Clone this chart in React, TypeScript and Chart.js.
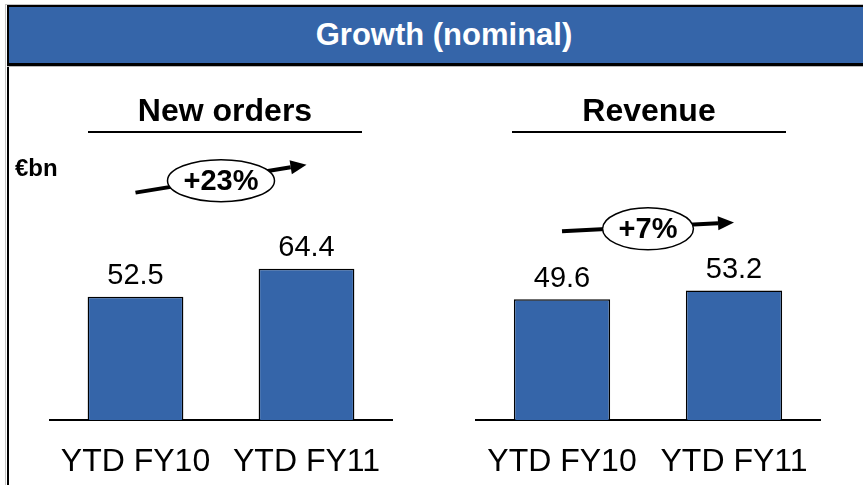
import React, { useEffect, useRef } from 'react';
import { Chart, registerables } from 'chart.js';

Chart.register(...registerables);

// ---- data ----
const headerTitle = 'Growth (nominal)';
const unitLabel = '€bn';
const categories = ['YTD FY10', 'YTD FY11'];
const newOrders = [52.5, 64.4];
const revenue = [49.6, 53.2];
const panelTitles = ['New orders', 'Revenue'];
const growthLabels = ['+23%', '+7%'];

const BLUE = '#3565A9';
const FONT = '"Liberation Sans", Arial, Helvetica, sans-serif';

const decorPlugin = {
  id: 'decor',
  afterDraw(chart: any, _args: any, opts: any) {
    const { ctx, chartArea } = chart;
    const bars = chart.getDatasetMeta(0).data;
    const vals = chart.data.datasets[0].data as number[];
    ctx.save();
    ctx.fillStyle = '#000';
    ctx.strokeStyle = '#000';

    // value labels
    ctx.font = `29px ${FONT}`;
    ctx.textAlign = 'center';
    ctx.textBaseline = 'alphabetic';
    bars.forEach((b: any, i: number) => {
      ctx.fillText(vals[i].toFixed(1), b.x, b.y - 12.5);
    });

    // panel title + underline
    const cx = (chartArea.left + chartArea.right) / 2 + opts.titleShift;
    ctx.font = `bold 32px ${FONT}`;
    ctx.fillText(opts.title, cx, opts.titleY);
    ctx.fillRect(cx - opts.underlineHalf, opts.underlineY, opts.underlineHalf * 2, 2);

    // unit label
    if (opts.unit) {
      ctx.textAlign = 'left';
      ctx.font = `bold 24px ${FONT}`;
      ctx.fillText(opts.unit, opts.unitX, opts.unitY);
    }

    // growth arrow
    const b0 = bars[0];
    const b1 = bars[1];
    const x0 = b0.x;
    const y0 = b0.y - opts.arrowOffset;
    const x1 = b1.x;
    const y1 = b1.y - opts.arrowOffset;
    const ang = Math.atan2(y1 - y0, x1 - x0);
    const headLen = 16;
    const headHalf = 7;
    const bx = x1 - headLen * Math.cos(ang);
    const by = y1 - headLen * Math.sin(ang);
    ctx.lineWidth = 4;
    ctx.beginPath();
    ctx.moveTo(x0, y0);
    ctx.lineTo(bx, by);
    ctx.stroke();
    ctx.beginPath();
    ctx.moveTo(x1, y1);
    ctx.lineTo(bx + headHalf * Math.sin(ang), by - headHalf * Math.cos(ang));
    ctx.lineTo(bx - headHalf * Math.sin(ang), by + headHalf * Math.cos(ang));
    ctx.closePath();
    ctx.fill();

    // ellipse with growth text
    ctx.font = `bold 29px ${FONT}`;
    const tw = ctx.measureText(opts.growth).width;
    const ex = (x0 + x1) / 2;
    const ey = (y0 + y1) / 2 + 2;
    const rx = tw / 2 + 16;
    const ry = 21;
    ctx.beginPath();
    ctx.ellipse(ex, ey, rx, ry, 0, 0, Math.PI * 2);
    ctx.fillStyle = '#fff';
    ctx.fill();
    ctx.lineWidth = 1.5;
    ctx.stroke();
    ctx.fillStyle = '#000';
    ctx.textAlign = 'center';
    ctx.textBaseline = 'middle';
    ctx.fillText(opts.growth, ex, ey + 1);

    ctx.restore();
  },
};

type PanelProps = {
  values: number[];
  title: string;
  growth: string;
  max: number;
  left: number;
  width: number;
  padding: { left: number; right: number; top: number; bottom: number };
  arrowOffset: number;
  titleShift: number;
  unit?: string;
};

const TOP = 66;
const HEIGHT = 419;

function BarPanel(p: PanelProps) {
  const ref = useRef<HTMLCanvasElement>(null);
  useEffect(() => {
    const chart = new Chart(ref.current as HTMLCanvasElement, {
      type: 'bar',
      data: {
        labels: categories,
        datasets: [
          {
            data: p.values,
            backgroundColor: BLUE,
            borderColor: '#000',
            borderWidth: 1.5,
            barPercentage: 0.56,
            categoryPercentage: 1,
          },
        ],
      },
      options: {
        animation: false,
        responsive: false,
        maintainAspectRatio: false,
        layout: { padding: p.padding },
        plugins: {
          legend: { display: false },
          tooltip: { enabled: false },
          title: { display: false },
          decor: {
            title: p.title,
            growth: p.growth,
            titleY: 55,
            underlineY: 65,
            underlineHalf: 137,
            titleShift: p.titleShift,
            arrowOffset: p.arrowOffset,
            unit: p.unit,
            unitX: 5,
            unitY: 110,
          },
        } as any,
        scales: {
          x: {
            grid: { display: false, drawTicks: false },
            border: { display: true, color: '#000', width: 2 },
            ticks: {
              color: '#000',
              font: { family: FONT, size: 32 },
              padding: 23,
              maxRotation: 0,
              autoSkip: false,
            },
            afterFit: (scale: any) => {
              scale.height = 62;
            },
          },
          y: { display: false, min: 0, max: p.max },
        },
      },
      plugins: [decorPlugin as any],
    });
    return () => chart.destroy();
  }, []);
  return (
    <canvas
      ref={ref}
      width={p.width}
      height={HEIGHT}
      style={{ position: 'absolute', left: p.left, top: TOP, width: p.width, height: HEIGHT }}
    />
  );
}

export default function App() {
  return (
    <div
      style={{
        position: 'absolute',
        left: 0,
        top: 0,
        width: 863,
        height: 485,
        overflow: 'hidden',
        background: '#fff',
      }}
    >
      <div
        style={{
          position: 'absolute',
          left: 5,
          top: 4,
          width: 900,
          height: 500,
          borderLeft: '1px solid #c4c4c4',
          borderTop: '1px solid #c4c4c4',
        }}
      />
      <div style={{ position: 'absolute', left: 7, top: 5, width: 2, height: 490, background: '#000' }} />
      <div
        style={{
          position: 'absolute',
          left: 7,
          top: 5,
          width: 870,
          height: 56,
          background: BLUE,
          borderTop: '2px solid #000',
          borderBottom: '3px solid #000',
          borderLeft: '2px solid #000',
          boxShadow: '0 1px 0 #b8b8b8',
          color: '#fff',
          fontFamily: FONT,
          fontWeight: 'bold',
          fontSize: 31,
          lineHeight: '56px',
          textAlign: 'center',
        }}
      >
        {headerTitle}
      </div>
      <BarPanel
        values={newOrders}
        title={panelTitles[0]}
        growth={growthLabels[0]}
        max={100}
        left={10}
        width={420}
        padding={{ left: 40, right: 38, top: 119, bottom: 3 }}
        arrowOffset={104}
        titleShift={4}
        unit={unitLabel}
      />
      <BarPanel
        values={revenue}
        title={panelTitles[1]}
        growth={growthLabels[1]}
        max={100}
        left={432}
        width={431}
        padding={{ left: 44, right: 43, top: 110.5, bottom: 3 }}
        arrowOffset={68}
        titleShift={1}
      />
    </div>
  );
}
